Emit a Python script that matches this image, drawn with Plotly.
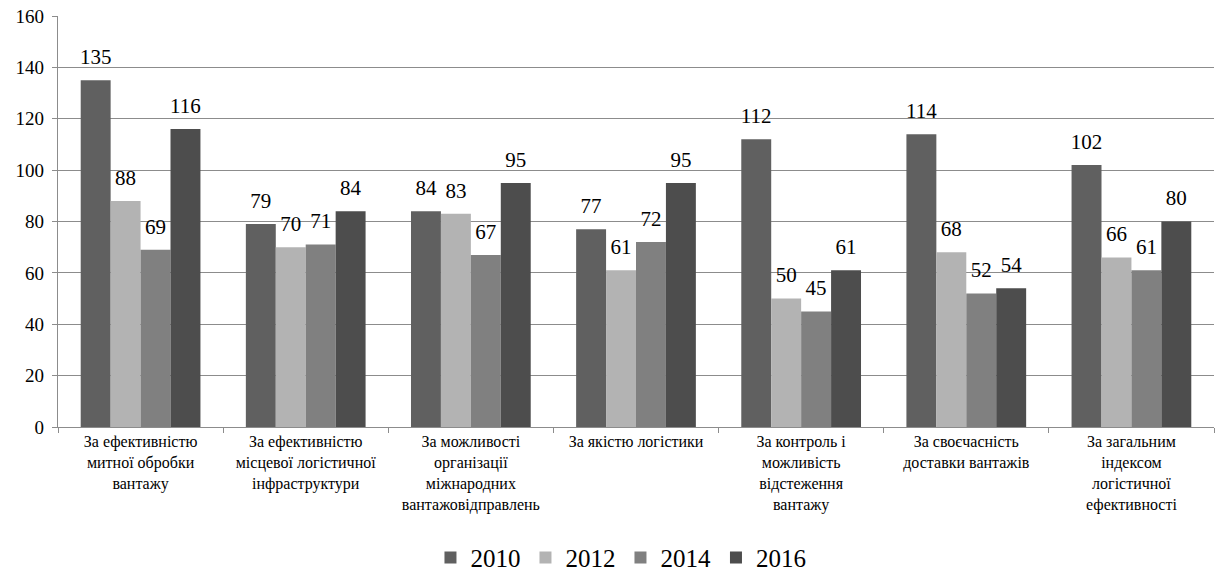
import plotly.graph_objects as go

categories = [
    "За ефективністю<br>митної обробки<br>вантажу",
    "За ефективністю<br>місцевої логістичної<br>інфраструктури",
    "За можливості<br>організації<br>міжнародних<br>вантажовідправлень",
    "За якістю логістики",
    "За контроль і<br>можливість<br>відстеження<br>вантажу",
    "За своєчасність<br>доставки вантажів",
    "За загальним<br>індексом<br>логістичної<br>ефективності",
]
years = ["2010", "2012", "2014", "2016"]
v2010 = [135, 79, 84, 77, 112, 114, 102]
v2012 = [88, 70, 83, 61, 50, 68, 66]
v2014 = [69, 71, 67, 72, 45, 52, 61]
v2016 = [116, 84, 95, 95, 61, 54, 80]
y_ticks = [0, 20, 40, 60, 80, 100, 120, 140, 160]

series = [v2010, v2012, v2014, v2016]
colors = ["#606060", "#b3b3b3", "#808080", "#4d4d4d"]

serif = "Liberation Serif, Tinos, Times New Roman, Times, serif"
fig = go.Figure()
for name, vals, col in zip(years, series, colors):
    fig.add_trace(go.Bar(
        x=categories, y=vals, name=name, offsetgroup=name,
        marker=dict(color=col, line=dict(width=0)),
    ))
for name, vals in zip(years, series):
    fig.add_trace(go.Scatter(
        x=categories, y=vals, name=name, offsetgroup=name, showlegend=False,
        mode="markers+text", marker=dict(size=16, opacity=0),
        text=[str(v) for v in vals], textposition="top center",
        textfont=dict(family=serif, size=21, color="#000000"),
        cliponaxis=False, hoverinfo="skip",
    ))

fig.update_layout(
    width=1215, height=577,
    margin=dict(l=58, r=1, t=16, b=150, autoexpand=False),
    paper_bgcolor="white", plot_bgcolor="white",
    barmode="group", bargap=0.275, bargroupgap=0,
    scattermode="group", scattergap=0.275,
    font=dict(family=serif, color="#000000"),
    showlegend=True,
    legend=dict(orientation="h", x=0.487, xanchor="center", y=-0.262, yanchor="top",
                font=dict(family=serif, size=25), itemwidth=30, traceorder="normal"),
)
fig.update_yaxes(
    range=[0, 160], tickvals=y_ticks, ticktext=[str(t) for t in y_ticks],
    showgrid=True, gridcolor="#8c8c8c", gridwidth=1.3,
    showline=True, linecolor="#8c8c8c", linewidth=1.3,
    ticks="outside", ticklen=5, tickcolor="#8c8c8c", ticklabelstandoff=4,
    tickfont=dict(family=serif, size=19), zeroline=False, automargin=False,
)
fig.update_xaxes(
    showline=True, linecolor="#8c8c8c", linewidth=1.3,
    ticks="outside", tickson="boundaries", ticklen=5, tickcolor="#8c8c8c",
    tickfont=dict(family=serif, size=16), tickangle=0, automargin=False,
)
fig.write_html("out.html", config={"displayModeBar": False},
               post_script="document.body.style.margin='0';document.body.style.padding='0';")
